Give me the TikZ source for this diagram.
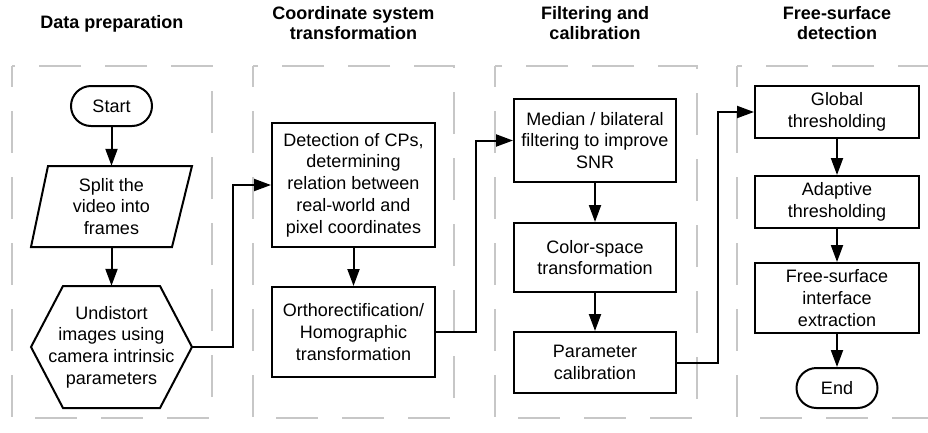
\documentclass[tikz,border=0pt]{standalone}
\usepackage{fontspec}
\setmainfont{Liberation Sans}
\usetikzlibrary{arrows.meta}
\begin{document}
\begin{tikzpicture}[x=1pt,y=-1pt,
  every node/.style={font=\fontsize{18}{21.7}\selectfont, align=center, inner sep=0pt},
  box/.style={draw=black, line width=2pt, rectangle, minimum width=163pt},
  term/.style={draw=black, line width=2pt, rectangle, rounded corners=20pt, minimum width=81pt, minimum height=40pt},
  shapeline/.style={draw=black, line width=2pt, line join=miter},
  ghost/.style={rectangle, draw=none},
  title/.style={font=\bfseries\fontsize{18}{20}\selectfont},
  lane/.style={draw=black!22, line width=1.5pt, dash pattern=on 42pt off 24pt, dash phase=21pt},
  arr/.style={draw=black, line width=2pt, -{Triangle[length=17pt,width=12pt]}},
  link/.style={arr, rounded corners=0pt}
]
\useasboundingbox (0,0) rectangle (928,432);
\begin{scope}
\clip (0,0) rectangle (928,432);
% lanes
\draw[lane] (12,66) rectangle (212,418);
\draw[lane] (253,66) rectangle (454,418);
\draw[lane] (495,66) rectangle (697,418);
\draw[lane] (737,66) rectangle (938,418);
\end{scope}

% titles
\node[title] (t1) at (112,24) {Data preparation};
\node[title] (t2) at (353.5,23) {Coordinate system\\transformation};
\node[title] (t3) at (595,23) {Filtering and\\calibration};
\node[title] (t4) at (837,23) {Free-surface\\detection};

% lane 1
\node[term] (start) at (111.5,106) {Start};
\node[ghost, minimum width=161pt, minimum height=81pt] (split) at (111.5,206.5) {Split the\\video into\\frames};
\draw[shapeline] (48,166) -- (192,166) -- (172,247) -- (31,247) -- cycle;
\node[ghost, minimum width=161pt, minimum height=122pt] (hex) at (111.5,347) {Undistort\\images using\\camera intrinsic\\parameters};
\draw[shapeline] (63,286) -- (160,286) -- (192,347) -- (160,408) -- (63,408) -- (31,347) -- cycle;

% lane 2
\node[box, minimum height=124pt] (cp) at (353.5,185) {Detection of CPs,\\determining\\relation between\\real-world and\\pixel coordinates};
\node[box, minimum height=90pt] (ortho) at (353.5,332) {Orthorectification/\\Homographic\\transformation};

% lane 3
\node[box, minimum width=162pt, minimum height=83pt] (med) at (595,140.5) {Median / bilateral\\filtering to improve\\SNR};
\node[box, minimum width=162pt, minimum height=69pt] (color) at (595,257.5) {Color-space\\transformation};
\node[box, minimum width=162pt, minimum height=61pt] (param) at (595,362.5) {Parameter\\calibration};

% lane 4
\node[box, minimum width=164pt, minimum height=52pt] (glob) at (837,112) {Global\\thresholding};
\node[box, minimum width=164pt, minimum height=52pt] (adapt) at (837,202) {Adaptive\\thresholding};
\node[box, minimum width=164pt, minimum height=70pt] (fse) at (837,298) {Free-surface\\interface\\extraction};
\node[term] (end) at (837,388) {End};

% arrows
\draw[arr] (start) -- (split);
\draw[arr] (split) -- (hex);
\draw[arr] (cp) -- (ortho);
\draw[arr] (med) -- (color);
\draw[arr] (color) -- (param);
\draw[arr] (glob) -- (adapt);
\draw[arr] (adapt) -- (fse);
\draw[arr] (fse) -- (end);

\draw[link] (hex.east) -- ++(41,0) |- (cp.west);
\draw[link] (ortho.east) -- ++(40,0) |- (med.west);
\draw[link] (param.east) -- ++(41,0) |- (glob.west);
\end{tikzpicture}
\end{document}
